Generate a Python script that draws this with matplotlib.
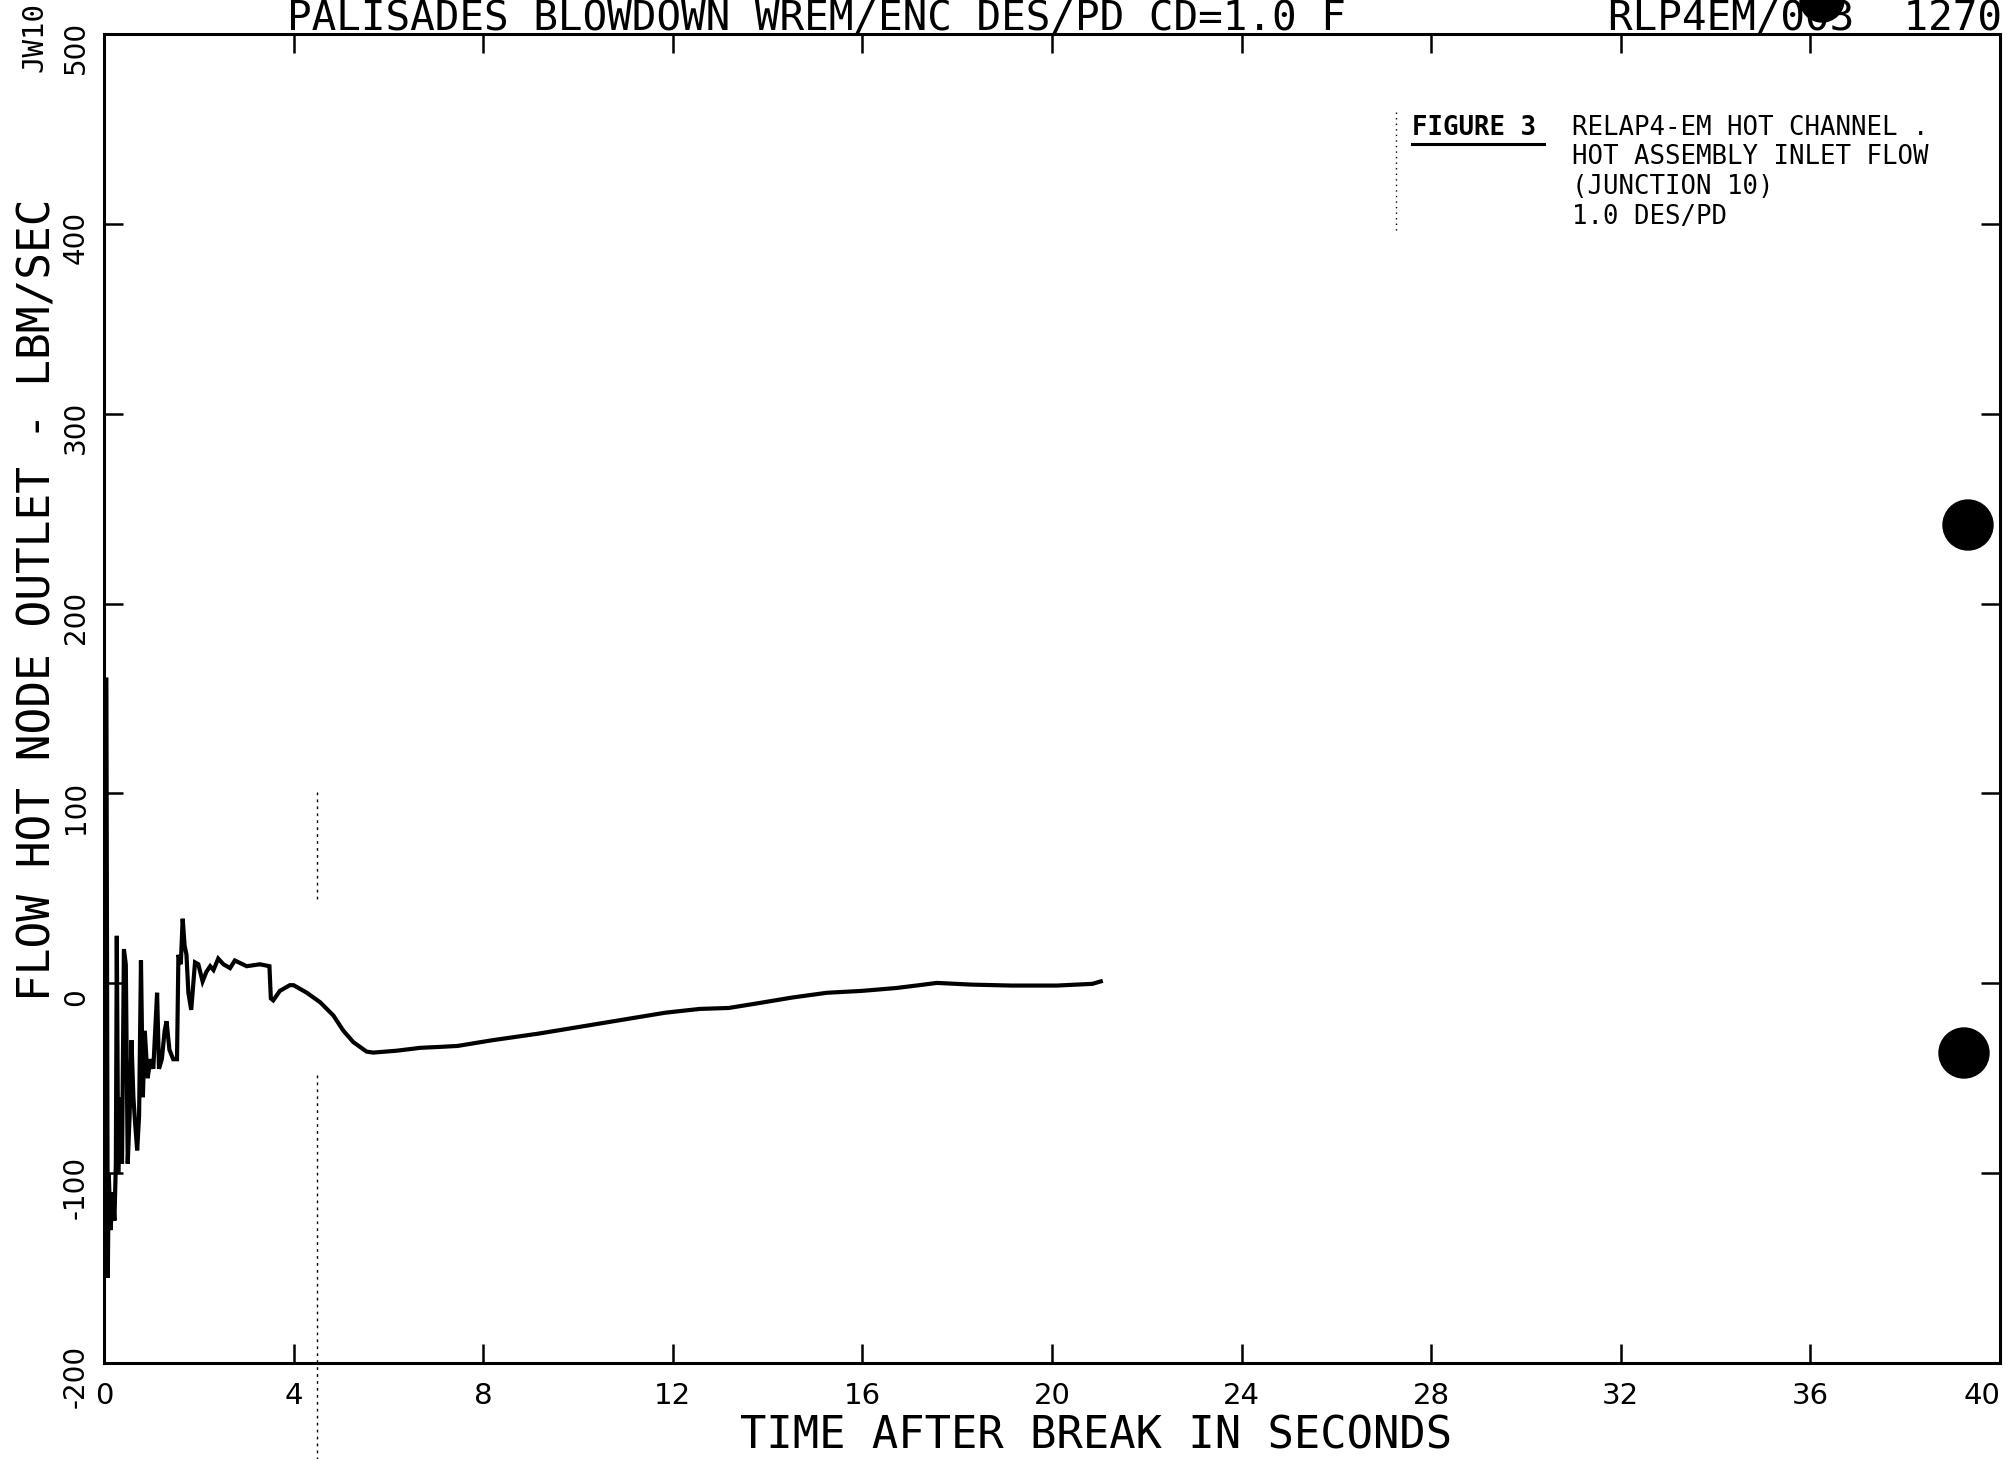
"""Redraw of the scanned RELAP4-EM hot channel inlet flow plot (Figure 3)."""
import matplotlib

matplotlib.use("Agg")
import matplotlib.pyplot as plt
from matplotlib.lines import Line2D
from matplotlib.patches import Ellipse
from matplotlib.transforms import ScaledTranslation

W, H = 2006, 1459

# time after break (s) and hot node outlet flow (lbm/sec)
time_s = [
    0.00, 0.02, 0.05, 0.08, 0.10, 0.14, 0.18, 0.22, 0.25, 0.27, 0.30, 0.34,
    0.38, 0.42, 0.46, 0.50, 0.54, 0.58, 0.62, 0.66, 0.70, 0.74, 0.78, 0.82,
    0.86, 0.92, 0.98, 1.04, 1.08, 1.12, 1.16, 1.22, 1.28, 1.32, 1.38, 1.46,
    1.54, 1.57, 1.62, 1.66, 1.70, 1.74, 1.78, 1.84, 1.92, 1.99, 2.08, 2.16,
    2.24, 2.31, 2.41, 2.52, 2.66, 2.76, 3.01, 3.29, 3.49, 3.52, 3.57, 3.71,
    3.92, 4.00, 4.28, 4.56, 4.84, 5.05, 5.26, 5.54, 5.68, 6.18, 6.67, 7.09,
    7.46, 8.19, 9.17, 9.90, 10.87, 11.84, 12.57, 13.18, 13.80, 14.52, 15.25,
    15.99, 16.71, 17.20, 17.57, 18.30, 19.15, 20.10, 20.85, 21.03,
]
flow_lbm_s = [
    0, 160, 160, -155, -100, -130, -110, -125, -95, 25, -100, -60,
    -95, 18, 10, -95, -70, -30, -60, -75, -88, -70, 12, -60,
    -25, -50, -40, -45, -25, -5, -45, -40, -25, -20, -35, -40,
    -40, 15, 10, 34, 20, 15, -5, -14, 11, 10, 1, 6,
    9, 7, 13, 10, 8, 12, 9, 10, 9, -8, -9, -4,
    -1, -1, -5, -10, -17, -25, -31, -36, -36.5, -35.5, -34, -33.5,
    -33, -30, -26.5, -23.5, -19.5, -15.5, -13.5, -13, -10.5, -7.5, -5,
    -4, -2.5, -1, 0.2, -0.7, -1.2, -1.2, -0.3, 1,
]

x_ticks = [0, 4, 8, 12, 16, 20, 24, 28, 32, 36, 40]
y_ticks = [-200, -100, 0, 100, 200, 300, 400, 500]

title_text = "PALISADES BLOWDOWN WREM/ENC DES/PD CD=1.0 F"
run_text = "RLP4EM/003  1270"
x_label = "TIME AFTER BREAK IN SECONDS"
y_label = "FLOW HOT NODE OUTLET - LBM/SEC"
figure_tag = "FIGURE 3"
caption_lines = [
    "RELAP4-EM HOT CHANNEL .",
    "HOT ASSEMBLY INLET FLOW",
    "(JUNCTION 10)",
    "1.0 DES/PD",
]

PLOTTER = ["DejaVu Sans Mono"]
NARROW = ["Liberation Sans Narrow", "DejaVu Sans"]


def fx(px):
    return px / W


def fy(py):
    return 1 - py / H


fig = plt.figure(figsize=(W / 100, H / 100), dpi=100)
ax = fig.add_axes([fx(104), fy(1363), fx(2000 - 104), (1363 - 34) / H])

ax.plot(time_s, flow_lbm_s, color="black", lw=3.0, solid_joinstyle="miter")

ax.set_xlim(0, 40)
ax.set_ylim(-200, 500)
ax.set_xticks(x_ticks, labels=[str(v) for v in x_ticks])
ax.set_yticks(y_ticks, labels=[str(v) for v in y_ticks])
ax.tick_params(direction="in", length=14, width=1.8, top=True, right=True, color="black")
ax.tick_params(axis="x", pad=14)
ax.tick_params(axis="y", pad=10)
for spine in ax.spines.values():
    spine.set_linewidth(2.2)

shift = ScaledTranslation(0, -10 / 72, fig.dpi_scale_trans)
for label in ax.get_xticklabels():
    label.set_family(NARROW)
    label.set_fontsize(21)
ax.get_xticklabels()[-1].set_horizontalalignment("right")
for label in ax.get_yticklabels():
    label.set_family(NARROW)
    label.set_fontsize(20)
    label.set_rotation(90)
    label.set_verticalalignment("center")
    label.set_transform(label.get_transform() + shift)

# plotter header and axis titles
fig.text(fx(816), fy(30), title_text, family=PLOTTER, fontsize=29.5, ha="center", va="baseline")
fig.text(fx(2002), fy(30), run_text, family=PLOTTER, fontsize=29.5, ha="right", va="baseline")
fig.text(fx(1096), fy(1436), x_label, family=PLOTTER, fontsize=31.5, ha="center", va="center")
fig.text(fx(38), fy(600), y_label, family=PLOTTER, fontsize=32, rotation=90, ha="center", va="center")
fig.text(fx(34), fy(72), "JW10", family=PLOTTER, fontsize=21, rotation=90, ha="center", va="bottom")

# typed caption
fig.text(fx(1412), fy(128), figure_tag, family=PLOTTER, fontsize=18.5, weight="bold", va="center")
fig.add_artist(Line2D([fx(1412), fx(1544)], [fy(144), fy(144)], color="black", lw=2.2))
for i, line in enumerate(caption_lines):
    fig.text(fx(1572), fy(128 + 29.5 * i), line, family=PLOTTER, fontsize=18.5, va="center")

# scan marks: dotted fold lines and punch holes
fig.add_artist(Line2D([fx(1396), fx(1396)], [fy(112), fy(232)], color="black", lw=1, ls=(0, (1, 3))))
fig.add_artist(Line2D([fx(317), fx(317)], [fy(792), fy(900)], color="black", lw=1, ls=(0, (2, 3))))
fig.add_artist(Line2D([fx(317), fx(317)], [fy(1075), fy(1459)], color="black", lw=1, ls=(0, (2, 3))))
for cx, cy, r in [(1968, 525, 25), (1964, 1053, 25), (1822, 0, 22)]:
    fig.add_artist(Ellipse((fx(cx), fy(cy)), 2 * r / W, 2 * r / H, color="black"))

fig.savefig("out.png", dpi=100)
